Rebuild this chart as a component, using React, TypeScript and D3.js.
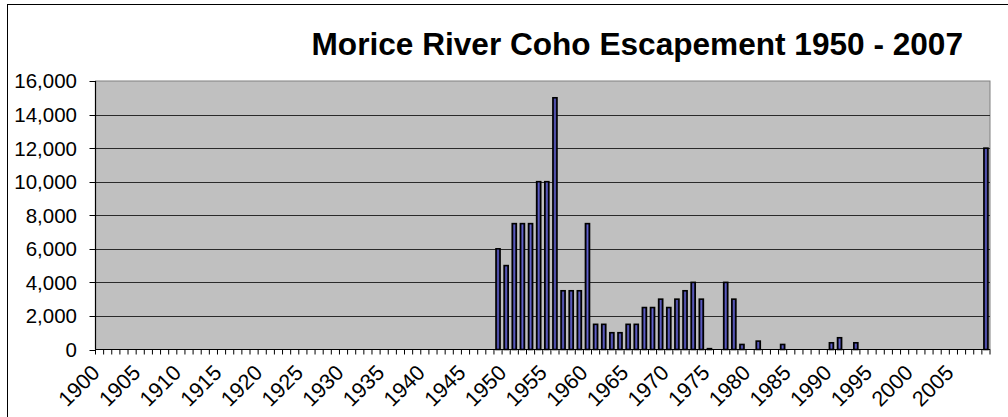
import React from "react";
import * as d3 from "d3";

const categories: string[] = d3.range(1900, 2010).map(String);
const barYears: string[] = [
  "1949", "1950", "1951", "1952", "1953", "1954", "1955", "1956", "1957", "1958",
  "1959", "1960", "1961", "1962", "1963", "1964", "1965", "1966", "1967", "1968",
  "1969", "1970", "1971", "1972", "1973", "1974", "1975", "1977", "1978", "1979",
  "1981", "1984", "1990", "1991", "1993", "2009",
];
const escapement: number[] = [
  6000, 5000, 7500, 7500, 7500, 10000, 10000, 15000, 3500, 3500,
  3500, 7500, 1500, 1500, 1000, 1000, 1500, 1500, 2500, 2500,
  3000, 2500, 3000, 3500, 4000, 3000, 50, 4000, 3000, 300,
  500, 300, 400, 700, 400, 12000,
];
const yTicks: number[] = [0, 2000, 4000, 6000, 8000, 10000, 12000, 14000, 16000];
const titleText = "Morice River Coho Escapement 1950 - 2007";

const W = 1008;
const H = 417;
const left = 95.5;
const right = 990;
const top = 81;
const bottom = 349.5;
const FONT = "'Liberation Sans', Arial, sans-serif";

export default function App() {
  const x = d3.scaleBand<string>().domain(categories).range([left, right]).padding(0);
  const y = d3.scaleLinear().domain([0, 16000]).range([bottom, top]);
  const bw = x.bandwidth();
  const barW = bw * 0.5;
  const fmt = d3.format(",");

  return (
    <svg width={W} height={H} style={{ position: "absolute", left: 0, top: 0, background: "#fff" }}>
      <defs>
        <linearGradient id="barGrad" x1="0" x2="1" y1="0" y2="0">
          <stop offset="0" stopColor="#14143a" />
          <stop offset="0.5" stopColor="#6262cc" />
          <stop offset="1" stopColor="#14143a" />
        </linearGradient>
      </defs>
      <rect x={7.5} y={4.5} width={1010} height={420} fill="#fff" stroke="#000" strokeWidth={1} />
      <text x={963} y={55} textAnchor="end" fontFamily={FONT} fontWeight="bold" fontSize={31.6}>
        {titleText}
      </text>
      <rect x={left} y={top} width={right - left} height={bottom - top} fill="#c0c0c0" stroke="#808080" strokeWidth={1} />
      {yTicks.map((t) => (
        <g key={t}>
          {t > 0 && t < 16000 && (
            <line x1={left} x2={right} y1={Math.round(y(t)) + 0.5} y2={Math.round(y(t)) + 0.5} stroke="#2a2a2a" strokeWidth={1} />
          )}
          <line x1={left - 6} x2={left} y1={Math.round(y(t)) + 0.5} y2={Math.round(y(t)) + 0.5} stroke="#000" strokeWidth={1} />
          <text x={77} y={y(t)} dy="0.36em" textAnchor="end" fontFamily={FONT} fontSize={20.5} fill="#000">
            {fmt(t)}
          </text>
        </g>
      ))}
      {barYears.map((yr, i) => {
        const cx = (x(yr) as number) + bw / 2;
        const v = escapement[i];
        return (
          <rect
            key={yr}
            x={cx - barW / 2}
            y={y(v)}
            width={barW}
            height={bottom - y(v)}
            fill="url(#barGrad)"
            stroke="#000"
            strokeWidth={1.6}
          />
        );
      })}
      <line x1={left} x2={left} y1={top} y2={bottom} stroke="#000" strokeWidth={1.2} />
      <line x1={left} x2={right} y1={bottom} y2={bottom} stroke="#000" strokeWidth={1.2} />
      {categories.map((c) => {
        const xp = x(c) as number;
        return <line key={"t" + c} x1={xp} x2={xp} y1={bottom} y2={bottom + 5} stroke="#000" strokeWidth={1} />;
      })}
      <line x1={right} x2={right} y1={bottom} y2={bottom + 5} stroke="#000" strokeWidth={1} />
      {categories.map((c, i) => {
        if (i % 5 !== 0) return null;
        const cx = (x(c) as number) + bw / 2 + 1.5;
        return (
          <text
            key={"l" + c}
            transform={`translate(${cx},${374}) rotate(-45)`}
            textAnchor="end"
            fontFamily={FONT}
            fontSize={21.5}
            fill="#000"
          >
            {c}
          </text>
        );
      })}
    </svg>
  );
}
